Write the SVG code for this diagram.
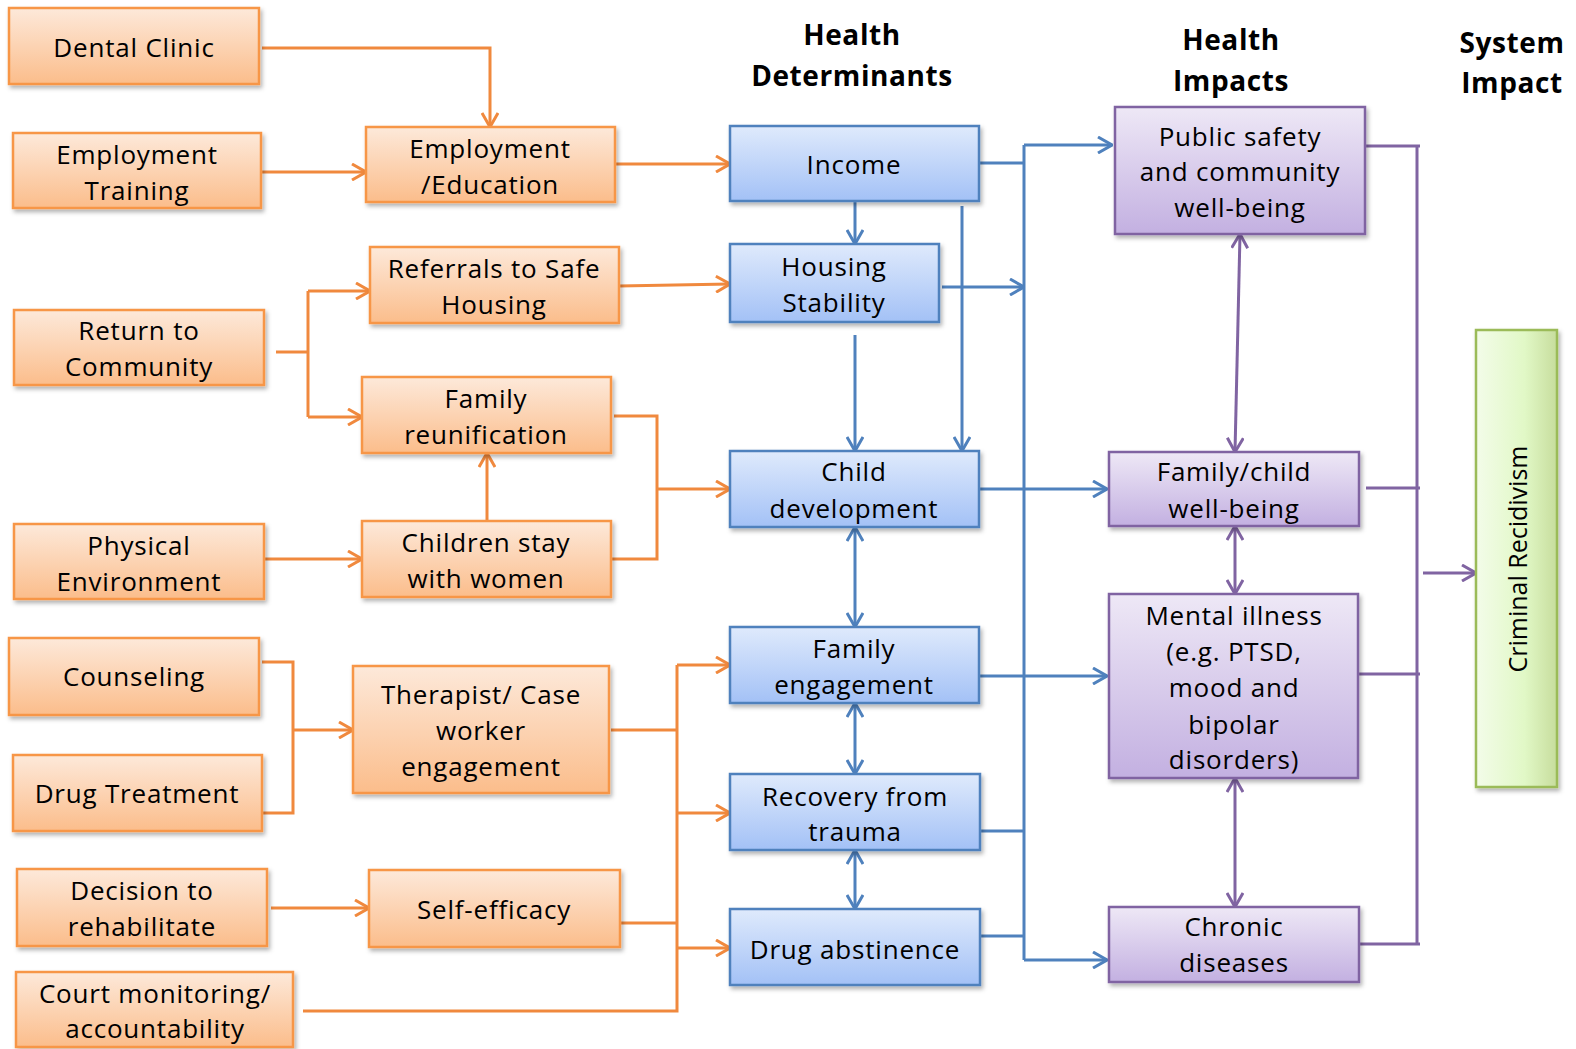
<svg xmlns="http://www.w3.org/2000/svg" width="1576" height="1049" viewBox="0 0 1576 1049">
<defs>
<linearGradient id="gO" x1="0" y1="0" x2="0" y2="1"><stop offset="0" stop-color="#fde9da"/><stop offset="1" stop-color="#fbbd8b"/></linearGradient>
<linearGradient id="gB" x1="0" y1="0" x2="0" y2="1"><stop offset="0" stop-color="#dfeafc"/><stop offset="1" stop-color="#a3c1f6"/></linearGradient>
<linearGradient id="gP" x1="0" y1="0" x2="0" y2="1"><stop offset="0" stop-color="#eee8f6"/><stop offset="1" stop-color="#c3b0e1"/></linearGradient>
<linearGradient id="gG" x1="0" y1="0" x2="1" y2="0"><stop offset="0" stop-color="#f3fce9"/><stop offset="0.6" stop-color="#e1f8c6"/><stop offset="1" stop-color="#c7dd9d"/></linearGradient>
<filter id="sh" x="-10%" y="-10%" width="130%" height="130%"><feDropShadow dx="2" dy="3" stdDeviation="2" flood-color="#000" flood-opacity="0.3"/></filter>
<marker id="aO" viewBox="0 0 16 18" refX="15" refY="9" markerWidth="16" markerHeight="18" markerUnits="userSpaceOnUse" orient="auto-start-reverse"><path d="M1,1 L15,9 L1,17" fill="none" stroke="#f0893e" stroke-width="3"/></marker>
<marker id="aB" viewBox="0 0 16 18" refX="15" refY="9" markerWidth="16" markerHeight="18" markerUnits="userSpaceOnUse" orient="auto-start-reverse"><path d="M1,1 L15,9 L1,17" fill="none" stroke="#4f81bd" stroke-width="3"/></marker>
<marker id="aP" viewBox="0 0 16 18" refX="15" refY="9" markerWidth="16" markerHeight="18" markerUnits="userSpaceOnUse" orient="auto-start-reverse"><path d="M1,1 L15,9 L1,17" fill="none" stroke="#8064a2" stroke-width="3"/></marker>
</defs>
<style>
text{font-family:"Open Sans","Noto Sans",sans-serif;font-size:26px;fill:#000;text-anchor:middle;dominant-baseline:central;letter-spacing:0.8px}
.h{font-weight:bold;font-size:28px;letter-spacing:0.6px}
.v{font-size:25px;letter-spacing:0}
.o{fill:url(#gO);stroke:#f79646;stroke-width:2.5;filter:url(#sh)}
.b{fill:url(#gB);stroke:#4f81bd;stroke-width:2.5;filter:url(#sh)}
.p{fill:url(#gP);stroke:#8064a2;stroke-width:2.5;filter:url(#sh)}
.g{fill:url(#gG);stroke:#9bbb59;stroke-width:2.5;filter:url(#sh)}
.co{fill:none;stroke:#f0893e;stroke-width:3}
.cb{fill:none;stroke:#4f81bd;stroke-width:3}
.cp{fill:none;stroke:#8064a2;stroke-width:3}
</style>
<rect width="1576" height="1049" fill="#fff"/>

<g id="headers">
<text class="h" x="852" y="34">Health</text>
<text class="h" x="852" y="75">Determinants</text>
<text class="h" x="1231" y="39">Health</text>
<text class="h" x="1231" y="80">Impacts</text>
<text class="h" x="1512" y="42">System</text>
<text class="h" x="1512" y="82">Impact</text>
</g>

<g id="connectors">
<path class="co" d="M262,48 H490 V127" marker-end="url(#aO)"/>
<path class="co" d="M262,172 H366" marker-end="url(#aO)"/>
<path class="co" d="M615,164 H730" marker-end="url(#aO)"/>
<path class="co" d="M619,286 L730,284" marker-end="url(#aO)"/>
<path class="co" d="M276,352 H308"/>
<path class="co" d="M308,291 V417"/>
<path class="co" d="M308,291 H370" marker-end="url(#aO)"/>
<path class="co" d="M308,417 H362" marker-end="url(#aO)"/>
<path class="co" d="M614,416 H657 V559 H611"/>
<path class="co" d="M657,489 H730" marker-end="url(#aO)"/>
<path class="co" d="M487,521 V453" marker-end="url(#aO)"/>
<path class="co" d="M264,559 H362" marker-end="url(#aO)"/>
<path class="co" d="M262,662 H293 V813 H262"/>
<path class="co" d="M293,730 H353" marker-end="url(#aO)"/>
<path class="co" d="M271,908 H369" marker-end="url(#aO)"/>
<path class="co" d="M611,730 H676"/>
<path class="co" d="M620,923 H676"/>
<path class="co" d="M303,1011 H677 V665"/>
<path class="co" d="M677,665 H730" marker-end="url(#aO)"/>
<path class="co" d="M677,813 H730" marker-end="url(#aO)"/>
<path class="co" d="M677,948 H730" marker-end="url(#aO)"/>
<path class="cb" d="M855,201 V244" marker-end="url(#aB)"/>
<path class="cb" d="M855,335 V451" marker-end="url(#aB)"/>
<path class="cb" d="M962,206 V451" marker-end="url(#aB)"/>
<path class="cb" d="M855,527 V627" marker-start="url(#aB)" marker-end="url(#aB)"/>
<path class="cb" d="M855,703 V774" marker-start="url(#aB)" marker-end="url(#aB)"/>
<path class="cb" d="M855,850 V909" marker-start="url(#aB)" marker-end="url(#aB)"/>
<path class="cb" d="M979,163 H1024"/>
<path class="cb" d="M1024,145 V960"/>
<path class="cb" d="M1024,145 H1112" marker-end="url(#aB)"/>
<path class="cb" d="M942,287 H1024" marker-end="url(#aB)"/>
<path class="cb" d="M979,489 H1107" marker-end="url(#aB)"/>
<path class="cb" d="M979,676 H1107" marker-end="url(#aB)"/>
<path class="cb" d="M980,831 H1024"/>
<path class="cb" d="M980,936 H1024"/>
<path class="cb" d="M1024,960 H1107" marker-end="url(#aB)"/>
<path class="cp" d="M1240,234 L1235,452" marker-start="url(#aP)" marker-end="url(#aP)"/>
<path class="cp" d="M1235,526 V594" marker-start="url(#aP)" marker-end="url(#aP)"/>
<path class="cp" d="M1235,778 V907" marker-start="url(#aP)" marker-end="url(#aP)"/>
<path class="cp" d="M1365,146 H1420"/>
<path class="cp" d="M1417,146 V944"/>
<path class="cp" d="M1366,488 H1420"/>
<path class="cp" d="M1358,674 H1420"/>
<path class="cp" d="M1359,944 H1420"/>
<path class="cp" d="M1423,573 H1476" marker-end="url(#aP)"/>
</g>

<g id="dental"><rect class="o" x="9" y="8" width="250" height="76"/><text x="134" y="47">Dental Clinic</text></g>
<g id="emptrain"><rect class="o" x="13" y="133" width="248" height="75"/><text x="137" y="154">Employment</text><text x="137" y="190">Training</text></g>
<g id="empedu"><rect class="o" x="366" y="127" width="249" height="75"/><text x="490" y="148">Employment</text><text x="490" y="184">/Education</text></g>
<g id="referrals"><rect class="o" x="370" y="247" width="249" height="76"/><text x="494" y="268">Referrals to Safe</text><text x="494" y="304">Housing</text></g>
<g id="return"><rect class="o" x="14" y="310" width="250" height="75"/><text x="139" y="330">Return to</text><text x="139" y="366">Community</text></g>
<g id="famreun"><rect class="o" x="362" y="377" width="249" height="76"/><text x="486" y="398">Family</text><text x="486" y="434">reunification</text></g>
<g id="children"><rect class="o" x="362" y="521" width="249" height="76"/><text x="486" y="542">Children stay</text><text x="486" y="578">with women</text></g>
<g id="physical"><rect class="o" x="14" y="524" width="250" height="75"/><text x="139" y="545">Physical</text><text x="139" y="581">Environment</text></g>
<g id="counseling"><rect class="o" x="9" y="638" width="250" height="77"/><text x="134" y="676">Counseling</text></g>
<g id="drugtreat"><rect class="o" x="13" y="755" width="249" height="76"/><text x="137" y="793">Drug Treatment</text></g>
<g id="therapist"><rect class="o" x="353" y="666" width="256" height="127"/><text x="481" y="694">Therapist/ Case</text><text x="481" y="730">worker</text><text x="481" y="766">engagement</text></g>
<g id="decision"><rect class="o" x="17" y="869" width="250" height="77"/><text x="142" y="890">Decision to</text><text x="142" y="926">rehabilitate</text></g>
<g id="selfeff"><rect class="o" x="369" y="870" width="251" height="77"/><text x="494" y="909">Self-efficacy</text></g>
<g id="court"><rect class="o" x="16" y="972" width="277" height="75"/><text x="155" y="993">Court monitoring/</text><text x="155" y="1028">accountability</text></g>

<g id="income"><rect class="b" x="730" y="126" width="249" height="75"/><text x="854" y="164">Income</text></g>
<g id="housing"><rect class="b" x="730" y="244" width="209" height="78"/><text x="834" y="266">Housing</text><text x="834" y="302">Stability</text></g>
<g id="child"><rect class="b" x="730" y="451" width="249" height="76"/><text x="854" y="471">Child</text><text x="854" y="508">development</text></g>
<g id="fameng"><rect class="b" x="730" y="627" width="249" height="76"/><text x="854" y="648">Family</text><text x="854" y="684">engagement</text></g>
<g id="recovery"><rect class="b" x="730" y="774" width="250" height="76"/><text x="855" y="796">Recovery from</text><text x="855" y="831">trauma</text></g>
<g id="drugabs"><rect class="b" x="730" y="909" width="250" height="76"/><text x="855" y="949">Drug abstinence</text></g>

<g id="publicsafety"><rect class="p" x="1115" y="107" width="250" height="127"/><text x="1240" y="136">Public safety</text><text x="1240" y="171">and community</text><text x="1240" y="207">well-being</text></g>
<g id="famchild"><rect class="p" x="1109" y="452" width="250" height="74"/><text x="1234" y="471">Family/child</text><text x="1234" y="508">well-being</text></g>
<g id="mental"><rect class="p" x="1109" y="594" width="249" height="184"/><text x="1234" y="615">Mental illness</text><text x="1234" y="651">(e.g. PTSD,</text><text x="1234" y="687">mood and</text><text x="1234" y="724">bipolar</text><text x="1234" y="759">disorders)</text></g>
<g id="chronic"><rect class="p" x="1109" y="907" width="250" height="75"/><text x="1234" y="926">Chronic</text><text x="1234" y="962">diseases</text></g>

<g id="crimrec"><rect class="g" x="1476" y="330" width="81" height="457"/><text class="v" x="1517" y="559" transform="rotate(-90 1517 559)">Criminal Recidivism</text></g>
</svg>
